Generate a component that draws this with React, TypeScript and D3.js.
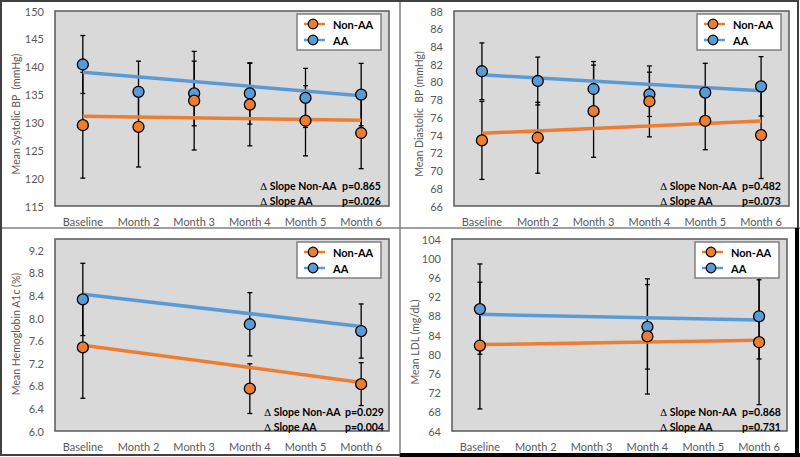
import React from "react";
import * as d3 from "d3";

const categories = ["Baseline", "Month 2", "Month 3", "Month 4", "Month 5", "Month 6"];

// Panel 1: Systolic BP
const sbpNonAA = [129.5, 129.2, 133.9, 133.2, 130.3, 128.1];
const sbpNonAAErr = [9.5, 7.2, 8.85, 7.4, 6.3, 6.4];
const sbpAA = [140.4, 135.5, 135.2, 135.2, 134.4, 135.0];
const sbpAAErr = [5.2, 5.5, 5.8, 5.5, 5.3, 5.6];
const sbpTrendNonAA = [131.1, 130.4];
const sbpTrendAA = [139.0, 134.8];
const sbpTicks = [115, 120, 125, 130, 135, 140, 145, 150];
const sbpP = ["p=0.865", "p=0.026"];

// Panel 2: Diastolic BP
const dbpNonAA = [73.4, 73.7, 76.7, 77.8, 75.6, 74.0];
const dbpNonAAErr = [4.4, 4.0, 5.2, 4.0, 3.25, 4.9];
const dbpAA = [81.2, 80.1, 79.2, 78.6, 78.8, 79.5];
const dbpAAErr = [3.2, 2.7, 3.1, 2.5, 3.3, 3.35];
const dbpTrendNonAA = [74.2, 75.6];
const dbpTrendAA = [80.8, 79.0];
const dbpTicks = [66, 68, 70, 72, 74, 76, 78, 80, 82, 84, 86, 88];
const dbpP = ["p=0.482", "p=0.073"];

// Panel 3: Hemoglobin A1c
const a1cNonAA = [7.48, null, null, 6.75, null, 6.83];
const a1cNonAAErr = [0.9, null, null, 0.44, null, 0.38];
const a1cAA = [8.33, null, null, 7.89, null, 7.77];
const a1cAAErr = [0.64, null, null, 0.56, null, 0.48];
const a1cTrendNonAA = [7.52, 6.86];
const a1cTrendAA = [8.42, 7.85];
const a1cTicks = [6.0, 6.4, 6.8, 7.2, 7.6, 8.0, 8.4, 8.8, 9.2];
const a1cP = ["p=0.029", "p=0.004"];

// Panel 4: LDL
const ldlNonAA = [81.8, null, null, 83.7, null, 82.5];
const ldlNonAAErr = [13.2, null, null, 12.0, null, 13.0];
const ldlAA = [89.4, null, null, 85.7, null, 87.9];
const ldlAAErr = [9.4, null, null, 8.8, null, 8.9];
const ldlTrendNonAA = [82.0, 82.9];
const ldlTrendAA = [88.3, 87.1];
const ldlTicks = [64, 68, 72, 76, 80, 84, 88, 92, 96, 100, 104];
const ldlP = ["p=0.868", "p=0.731"];

const seriesNames = ["Non-AA", "AA"];

const ORANGE = "#ED7D31";
const BLUE = "#5B9BD5";
const FONT = "Lato, 'Open Sans', sans-serif";

type PanelProps = {
  l: number; t: number; r: number; b: number;
  domain: [number, number];
  ticks: number[];
  fmt: (v: number) => string;
  title: string; titleX: number; titleY: number;
  nonAA: (number | null)[]; nonAAErr: (number | null)[];
  aa: (number | null)[]; aaErr: (number | null)[];
  trendNonAA: number[]; trendAA: number[];
  pvals: string[];
  annoX: number; annoY: number; pX: number;
};

function Panel(p: PanelProps) {
  const x = d3.scalePoint<string>().domain(categories).range([p.l, p.r]).padding(0.5);
  const y = d3.scaleLinear().domain(p.domain).range([p.b, p.t]);
  const line = d3.line<number>()
    .x((_, i) => x(categories[i === 0 ? 0 : categories.length - 1])!)
    .y((v) => y(v));
  const series = [
    { vals: p.aa, errs: p.aaErr, color: BLUE, trend: p.trendAA },
    { vals: p.nonAA, errs: p.nonAAErr, color: ORANGE, trend: p.trendNonAA },
  ];
  const cap = 2.5;
  const lgX = p.r - 92, lgY = p.t + 3;
  return (
    <g>
      <rect x={p.l} y={p.t} width={p.r - p.l} height={p.b - p.t} fill="#d9d9d9" stroke="#595959" strokeWidth={1.5} />
      {p.ticks.map((tv) => (
        <text key={tv} x={p.l - 11} y={y(tv)} textAnchor="end" dominantBaseline="central" fontSize={11} fill="#595959" fontFamily={FONT}>
          {p.fmt(tv)}
        </text>
      ))}
      {categories.map((c) => (
        <text key={c} x={x(c)} y={p.b + 15} textAnchor="middle" dominantBaseline="central" fontSize={11} fill="#595959" fontFamily={FONT}>
          {c}
        </text>
      ))}
      <text transform={`translate(${p.titleX},${p.titleY}) rotate(-90)`} textAnchor="middle" dominantBaseline="central" fontSize={10.5} fill="#595959" fontFamily={FONT} style={{ whiteSpace: "pre" }}>
        {p.title}
      </text>
      {/* error bars */}
      {series.map((s, si) =>
        s.vals.map((v, i) => {
          if (v == null || s.errs[i] == null) return null;
          const cx = x(categories[i])!;
          const e = s.errs[i] as number;
          const y1 = y(v + e), y2 = y(v - e);
          return (
            <g key={`e${si}-${i}`} stroke="#000" strokeWidth={1.3}>
              <line x1={cx} x2={cx} y1={y1} y2={y2} />
              <line x1={cx - cap} x2={cx + cap} y1={y1} y2={y1} />
              <line x1={cx - cap} x2={cx + cap} y1={y2} y2={y2} />
            </g>
          );
        })
      )}
      {/* trend lines */}
      {series.map((s, si) => (
        <path key={`t${si}`} d={line(s.trend) || ""} fill="none" stroke={s.color} strokeWidth={3.5} />
      ))}
      {/* markers */}
      {series.map((s, si) =>
        s.vals.map((v, i) =>
          v == null ? null : (
            <circle key={`m${si}-${i}`} cx={x(categories[i])} cy={y(v)} r={5.5} fill={s.color} stroke="#000" strokeWidth={1.3} />
          )
        )
      )}
      {/* legend */}
      <rect x={lgX} y={lgY} width={84} height={36} fill="#fff" stroke="#7f7f7f" strokeWidth={1.5} />
      {[ORANGE, BLUE].map((c, i) => (
        <g key={`lg${i}`}>
          <line x1={lgX + 7} x2={lgX + 28} y1={lgY + 10 + i * 16} y2={lgY + 10 + i * 16} stroke={c} strokeWidth={2.5} />
          <circle cx={lgX + 16} cy={lgY + 10 + i * 16} r={4.8} fill={c} stroke="#000" strokeWidth={1.2} />
          <text x={lgX + 36} y={lgY + 10 + i * 16} dominantBaseline="central" fontSize={11} fontWeight="bold" fill="#000" fontFamily={FONT}>
            {seriesNames[i]}
          </text>
        </g>
      ))}
      {/* annotations */}
      {["Non-AA", "AA"].map((n, i) => (
        <g key={`an${i}`}>
          <text x={p.annoX} y={p.annoY + i * 14.5} dominantBaseline="central" fontSize={10.5} fontWeight="bold" fill="#000" fontFamily={FONT}>
            <tspan fontFamily="'DejaVu Serif', serif" fontWeight="normal" fontSize={10}>{"\u0394"}</tspan>
            {" Slope " + n}
          </text>
          <text x={p.pX} y={p.annoY + i * 14.5} dominantBaseline="central" fontSize={10.5} fontWeight="bold" fill="#000" fontFamily={FONT}>
            {p.pvals[i]}
          </text>
        </g>
      ))}
    </g>
  );
}

export default function App() {
  const f0 = (v: number) => d3.format("d")(v);
  const f1 = (v: number) => d3.format(".1f")(v);
  return (
    <svg width={800} height={457} style={{ position: "absolute", left: 0, top: 0, background: "#fff" }}>
      <rect x={0} y={0} width={800} height={457} fill="#fff" />
      <Panel l={55} t={11} r={389} b={206} domain={[115, 150]} ticks={sbpTicks} fmt={f0}
        title="Mean Systolic BP  (mmHg)" titleX={16} titleY={114}
        nonAA={sbpNonAA} nonAAErr={sbpNonAAErr} aa={sbpAA} aaErr={sbpAAErr}
        trendNonAA={sbpTrendNonAA} trendAA={sbpTrendAA} pvals={sbpP}
        annoX={260} annoY={186} pX={342} />
      <Panel l={454} t={11} r={789} b={206} domain={[66, 88]} ticks={dbpTicks} fmt={f0}
        title="Mean Diastolic  BP (mmHg)" titleX={419} titleY={114}
        nonAA={dbpNonAA} nonAAErr={dbpNonAAErr} aa={dbpAA} aaErr={dbpAAErr}
        trendNonAA={dbpTrendNonAA} trendAA={dbpTrendAA} pvals={dbpP}
        annoX={660} annoY={186} pX={742} />
      <Panel l={55} t={239} r={389} b={431} domain={[6.0, 9.4]} ticks={a1cTicks} fmt={f1}
        title="Mean Hemoglobin A1c (%)" titleX={16} titleY={334}
        nonAA={a1cNonAA} nonAAErr={a1cNonAAErr} aa={a1cAA} aaErr={a1cAAErr}
        trendNonAA={a1cTrendNonAA} trendAA={a1cTrendAA} pvals={a1cP}
        annoX={264} annoY={412} pX={345} />
      <Panel l={452} t={239} r={787} b={431} domain={[64, 104]} ticks={ldlTicks} fmt={f0}
        title="Mean LDL (mg/dL)" titleX={415} titleY={342}
        nonAA={ldlNonAA} nonAAErr={ldlNonAAErr} aa={ldlAA} aaErr={ldlAAErr}
        trendNonAA={ldlTrendNonAA} trendAA={ldlTrendAA} pvals={ldlP}
        annoX={660} annoY={412} pX={742} />
      {/* frame and separators */}
      <line x1={400} x2={400} y1={0} y2={457} stroke="#7f7f7f" strokeWidth={1.5} />
      <line x1={0} x2={800} y1={228} y2={228} stroke="#7f7f7f" strokeWidth={1.5} />
      <rect x={1} y={1} width={797} height={454} fill="none" stroke="#404040" strokeWidth={2} />
      <line x1={797} x2={797} y1={228} y2={457} stroke="#000" strokeWidth={4} />
      <line x1={400} x2={800} y1={455} y2={455} stroke="#000" strokeWidth={4} />
    </svg>
  );
}
